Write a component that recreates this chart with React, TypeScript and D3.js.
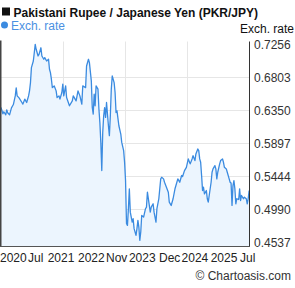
import React, { useEffect, useRef } from 'react';
import * as d3 from 'd3';

// PKR/JPY weekly closes, week index counted from the start date
const startDay = '2020-07-20';
const endDay = '2025-07-20';
const weeks = [
  0, 2, 3, 5, 6, 7, 9, 11, 13, 15,
  16, 17, 19, 22, 23, 25, 27, 29, 30, 31,
  32, 34, 35, 36, 37, 39, 40, 42, 43, 45,
  46, 48, 50, 51, 52, 53, 54, 56, 58, 59,
  61, 62, 64, 65, 66, 68, 69, 72, 75, 76,
  79, 81, 83, 85, 86, 89, 90, 92, 93, 95,
  96, 97, 98, 99, 100, 102, 103, 104, 105, 106,
  107, 108, 109, 110, 111, 113, 114, 115, 116, 117,
  119, 120, 121, 122, 124, 126, 127, 129, 130, 131,
  132, 133, 134, 135, 136, 138, 139, 140, 142, 143,
  144, 145, 146, 147, 148, 150, 152, 153, 154, 156,
  157, 158, 160, 161, 163, 164, 166, 168, 169, 171,
  172, 174, 176, 177, 179, 181, 183, 184, 186, 188,
  190, 191, 193, 195, 197, 199, 201, 202, 204, 205,
  207, 208, 209, 210, 211, 212, 213, 214, 216, 217,
  218, 219, 221, 222, 223, 225, 226, 227, 228, 230,
  231, 233, 234, 235, 237, 238, 240, 241, 242, 243,
  244, 245, 246, 247, 248, 250, 251, 252, 253, 255,
  256, 258, 259, 260, 261,
];
const rates = [
  0.6388, 0.6302, 0.6330, 0.6288, 0.6357, 0.6316, 0.6288, 0.6384, 0.6429, 0.6548,
  0.6658, 0.6548, 0.6521, 0.6457, 0.6435, 0.6503, 0.6457, 0.6548, 0.6617, 0.6731,
  0.6936, 0.7027, 0.7141, 0.7256, 0.7188, 0.7096, 0.7119, 0.7209, 0.7096, 0.7051,
  0.7073, 0.7027, 0.7051, 0.6914, 0.6867, 0.6777, 0.6662, 0.6685, 0.6617, 0.6525,
  0.6548, 0.6503, 0.6594, 0.6709, 0.6548, 0.6685, 0.6525, 0.6412, 0.6480, 0.6548,
  0.6480, 0.6617, 0.6548, 0.6435, 0.6685, 0.6662, 0.6959, 0.7051, 0.7004, 0.6754,
  0.6388, 0.6298, 0.6572, 0.6412, 0.6685, 0.6640, 0.6366, 0.6183, 0.5909, 0.5522,
  0.6046, 0.6275, 0.6388, 0.6252, 0.6457, 0.6138, 0.6001, 0.6275, 0.6640, 0.6822,
  0.6731, 0.6594, 0.6320, 0.6343, 0.6138, 0.6024, 0.5909, 0.5796, 0.5636, 0.5385,
  0.4797, 0.4769, 0.4998, 0.5272, 0.4951, 0.4814, 0.4861, 0.4724, 0.4632, 0.4724,
  0.4838, 0.4746, 0.4564, 0.4678, 0.4906, 0.4883, 0.4998, 0.5020, 0.5225, 0.5043,
  0.4951, 0.5020, 0.5066, 0.4951, 0.4814, 0.4998, 0.5135, 0.5408, 0.5430, 0.5408,
  0.5362, 0.5293, 0.5225, 0.5088, 0.5043, 0.5135, 0.5272, 0.5317, 0.5408, 0.5362,
  0.5454, 0.5440, 0.5522, 0.5567, 0.5682, 0.5614, 0.5682, 0.5727, 0.5659, 0.5751,
  0.5819, 0.5796, 0.5682, 0.5636, 0.5454, 0.5248, 0.5293, 0.5203, 0.5248, 0.5135,
  0.5088, 0.5180, 0.5362, 0.5499, 0.5545, 0.5590, 0.5545, 0.5408, 0.5499, 0.5614,
  0.5659, 0.5682, 0.5636, 0.5567, 0.5545, 0.5499, 0.5408, 0.5362, 0.5350, 0.5043,
  0.5317, 0.5385, 0.5272, 0.5066, 0.5135, 0.5125, 0.5272, 0.5111, 0.5180, 0.5135,
  0.5157, 0.5135, 0.5066, 0.5135, 0.5248,
];

const yTicks = [0.7256, 0.6803, 0.635, 0.5897, 0.5444, 0.499, 0.4537];
const xTickLabels = ['2020', 'Jul', '2021', '2022', 'Nov', '2023', 'Dec', '2024', '2025', 'Jul'];
const xTickDays = [
  '2020-10-19', '2021-04-01', '2021-10-05', '2022-05-16', '2022-11-19',
  '2023-05-26', '2023-12-14', '2024-06-17', '2025-01-17', '2025-07-10',
];
const xGridDays = ['2021-10-19', '2023-01-19', '2024-04-20'];

const title = 'Pakistani Rupee / Japanese Yen (PKR/JPY)';
const seriesName = 'Exch. rate';
const credit = '\u00a9 Chartoasis.com';

const W = 295;
const H = 288;
const font = 'Arial, "Liberation Sans", sans-serif';

export default function App() {
  const svgRef = useRef<SVGSVGElement>(null);

  useEffect(() => {
    document.body.style.margin = '0';
    const svg = d3.select(svgRef.current);
    svg.selectAll('*').remove();

    const parse = d3.timeParse('%Y-%m-%d');
    const start = parse(startDay) as Date;
    const data = weeks.map((w, i) => ({ date: d3.timeDay.offset(start, w * 7), value: rates[i] }));

    const left = 1;
    const right = 249;
    const top = 41.5;
    const bottom = 246;

    const x = d3.scaleTime().domain([start, parse(endDay) as Date]).range([left, right]);
    const y = d3.scaleLinear().domain([0.4486, 0.7295]).range([bottom, top]);

    // grid
    const grid = svg.append('g').attr('stroke', '#e6e6e6').attr('stroke-width', 1);
    yTicks.slice(1, -1).forEach(t => {
      const yy = Math.round(y(t)) + 0.5;
      grid.append('line').attr('x1', left).attr('x2', right).attr('y1', yy).attr('y2', yy);
    });
    xGridDays.forEach(d => {
      const xx = Math.round(x(parse(d) as Date)) + 0.5;
      grid.append('line').attr('x1', xx).attr('x2', xx).attr('y1', top).attr('y2', bottom);
    });

    // area + line
    svg.append('path')
      .datum(data)
      .attr('fill', '#ecf5fe')
      .attr('d', d3.area<any>().x(d => x(d.date)).y0(bottom).y1(d => y(d.value)));
    svg.append('path')
      .datum(data)
      .attr('fill', 'none')
      .attr('stroke', '#3b8be0')
      .attr('stroke-width', 1.3)
      .attr('stroke-linejoin', 'round')
      .attr('d', d3.line<any>().x(d => x(d.date)).y(d => y(d.value)));

    // frame
    svg.append('line').attr('x1', 0.75).attr('x2', 0.75).attr('y1', top - 1).attr('y2', bottom)
      .attr('stroke', '#444').attr('stroke-width', 1.5);
    svg.append('line').attr('x1', right + 0.5).attr('x2', right + 0.5).attr('y1', top).attr('y2', bottom)
      .attr('stroke', '#333').attr('stroke-width', 1);
    svg.append('line').attr('x1', 0).attr('x2', right + 1).attr('y1', bottom + 0.5).attr('y2', bottom + 0.5)
      .attr('stroke', '#555').attr('stroke-width', 1);

    // right axis labels
    svg.append('g')
      .selectAll('text')
      .data(yTicks)
      .join('text')
      .attr('x', 254)
      .attr('y', d => y(d) + 4.3)
      .attr('font-size', 12)
      .attr('font-family', font)
      .attr('fill', '#333')
      .text(d => d.toFixed(4));

    // bottom labels
    svg.append('g')
      .selectAll('text')
      .data(xTickLabels)
      .join('text')
      .attr('x', (d, i) => x(parse(xTickDays[i]) as Date))
      .attr('y', 261.5)
      .attr('text-anchor', 'middle')
      .attr('font-size', 12)
      .attr('font-family', font)
      .attr('fill', '#222')
      .text(d => d);

    // title + legend
    svg.append('rect').attr('x', 2).attr('y', 7.5).attr('width', 8).attr('height', 8).attr('fill', '#111');
    svg.append('text').attr('x', 13.5).attr('y', 16.5)
      .attr('font-size', 12).attr('font-weight', 'bold').attr('font-family', font).attr('fill', '#111')
      .text(title);
    svg.append('circle').attr('cx', 4.5).attr('cy', 25).attr('r', 3.5).attr('fill', '#3b8be0');
    svg.append('text').attr('x', 11).attr('y', 29.5)
      .attr('font-size', 12).attr('font-family', font).attr('fill', '#4a90e2')
      .text(seriesName);
    svg.append('text').attr('x', 294).attr('y', 33).attr('text-anchor', 'end')
      .attr('font-size', 12).attr('font-family', font).attr('fill', '#111')
      .text(seriesName);
    svg.append('text').attr('x', 291).attr('y', 280).attr('text-anchor', 'end')
      .attr('font-size', 12).attr('font-family', font).attr('fill', '#333')
      .text(credit);
  }, []);

  return (
    <svg ref={svgRef} width={W} height={H}
      style={{ position: 'absolute', left: 0, top: 0, background: '#fff' }} />
  );
}
